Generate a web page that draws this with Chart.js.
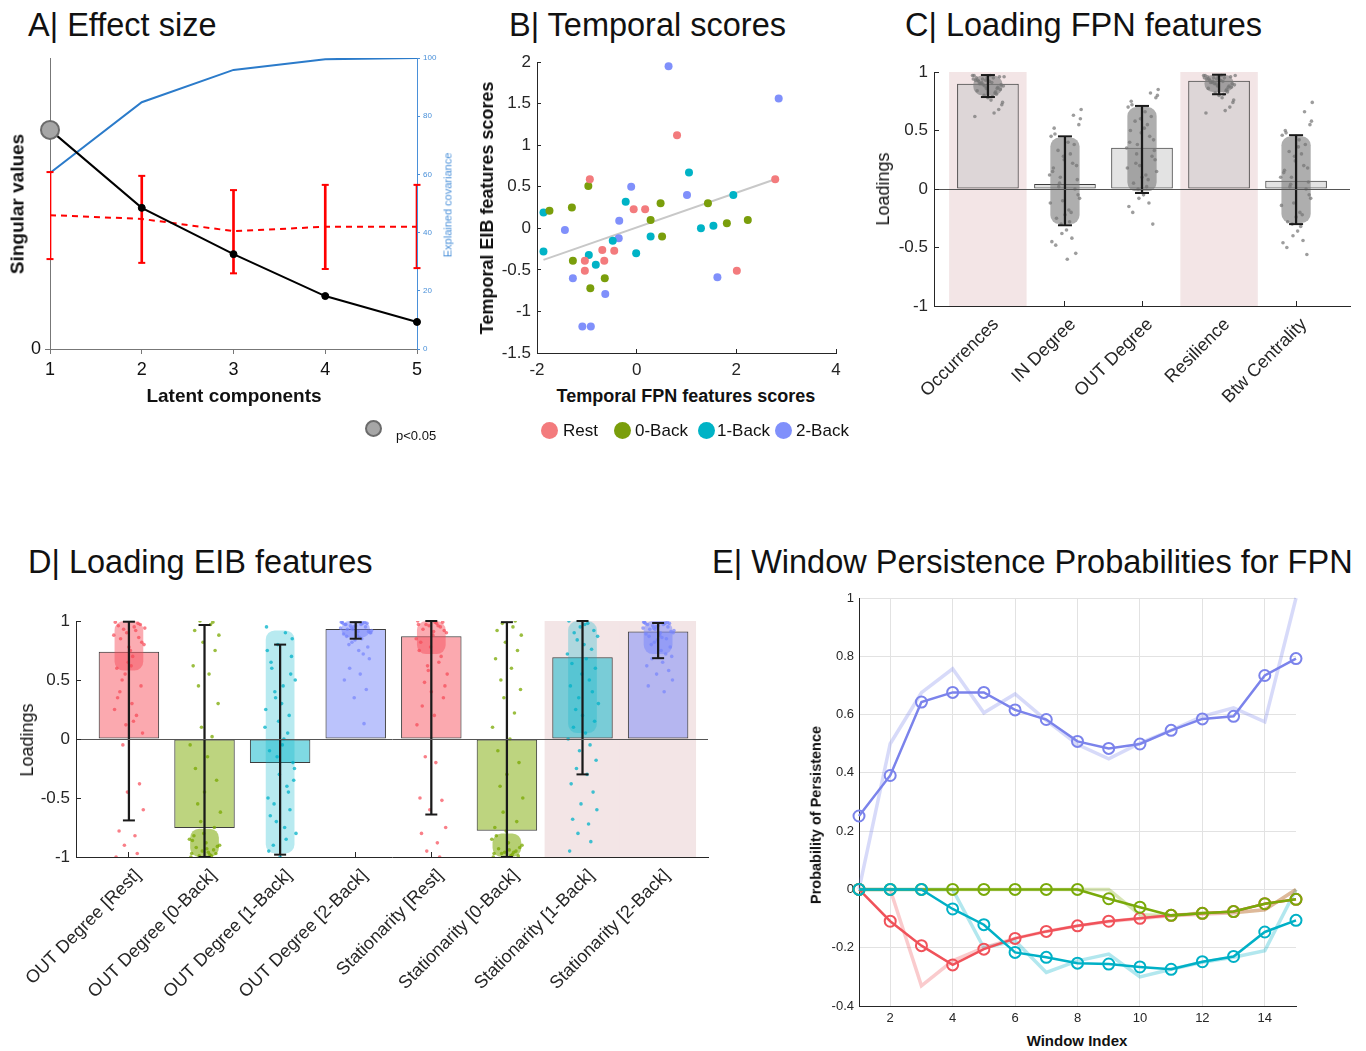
<!DOCTYPE html>
<html>
<head>
<meta charset="utf-8">
<title>FPN / EIB latent components</title>
<script src="https://cdn.jsdelivr.net/npm/chart.js@4.4.1/dist/chart.umd.min.js"></script>
<style>
  body { margin: 0; background: #fff; font-family: 'Liberation Sans', Arial, Helvetica, sans-serif; color: #111; }
  #page { position: relative; width: 1366px; height: 1051px; overflow: hidden; background: #fff; }
  canvas { position: absolute; }
  .t { position: absolute; white-space: nowrap; line-height: 1; }
  .dot { position: absolute; border-radius: 50%; box-sizing: border-box; }
</style>
</head>
<body>
<div id="page"></div>
<script>
// ---------- A | Effect size ----------
const compA = [1, 2, 3, 4, 5]
const singularVals = [75.3, 48.5, 32.6, 18.2, 9.3]
const nullMean = [46, 44.7, 40.5, 42, 42]
const nullLo = [30.9, 29.6, 26, 27.5, 27.8]
const nullHi = [60.8, 59.5, 54.6, 56.4, 56.4]
const explainedCov = [60.5, 84.8, 95.9, 99.6, 100]
const pSignif = [true, false, false, false, false]

// ---------- B | Temporal scores ----------
const restX = [-0.94, 0.81, 2.78, -0.06, 0.17, -0.69, -0.45, -1.04, -0.65, -1.04, 2.01]
const restY = [0.59, 1.12, 0.59, 0.23, 0.23, -0.26, -0.27, -0.39, -0.39, -0.51, -0.51]
const back0X = [-1.75, -1.30, -0.97, 0.48, 0.28, 0.51, 1.43, 1.81, 2.23, -1.28, -0.64, -0.93]
const back0Y = [0.21, 0.25, 0.51, 0.30, 0.10, -0.10, 0.30, 0.06, 0.10, -0.39, -0.60, -0.72]
const back1X = [-1.87, -1.87, -0.22, 1.05, 1.94, 1.29, 1.54, 0.28, -0.48, -0.01, -0.96, -0.82]
const back1Y = [0.19, -0.28, 0.32, 0.67, 0.40, 0.0, 0.03, -0.10, -0.15, -0.30, -0.32, -0.44]
const back2X = [0.64, 2.85, -0.11, 1.01, -0.35, -1.44, -0.36, -1.28, -0.63, 1.62, -1.09, -0.92]
const back2Y = [1.95, 1.56, 0.50, 0.40, 0.09, -0.02, -0.12, -0.60, -0.79, -0.59, -1.18, -1.18]
const fitX = [-1.87, 2.78]
const fitY = [-0.38, 0.59]
const condNames = ['Rest', '0-Back', '1-Back', '2-Back']

// ---------- C | Loading FPN features ----------
const fpnFeatures = ['Occurrences', 'IN Degree', 'OUT Degree', 'Resilience', 'Btw Centrality']
const fpnLoad = [0.90, 0.043, 0.353, 0.925, 0.07]
const fpnLo = [0.786, -0.31, -0.034, 0.81, -0.30]
const fpnHi = [0.974, 0.45, 0.71, 0.977, 0.46]
const fpnCoreLo = [0.80, -0.3, -0.02, 0.83, -0.29]
const fpnCoreHi = [0.97, 0.44, 0.7, 0.975, 0.45]
const fpnShaded = [1, 4]
const fpnBoot = [
  [0.97,0.95,0.93,0.96,0.9,0.88,0.94,0.92,0.86,0.97,0.91,0.84,0.89,0.95,0.82,0.93,0.87,0.8,0.96,0.9,0.78,0.85,0.92,0.76,0.94,0.83,0.88,0.72,0.91,0.79,0.95,0.68,0.86,0.74,0.93,0.65,0.89,0.81,0.62,0.97],
  [0.45,0.3,-0.1,0.2,-0.25,0.6,0.05,-0.35,0.38,0.12,-0.18,0.52,-0.05,0.25,-0.42,0.15,0.0,-0.3,0.68,0.33,-0.22,0.08,-0.48,0.4,-0.12,0.22,-0.38,0.55,0.02,-0.28,0.18,-0.55,0.28,-0.08,0.47,-0.2,0.1,0.63,-0.45,-0.6],
  [0.7,0.55,0.2,0.42,0.05,0.8,0.3,-0.05,0.62,0.35,0.12,0.75,0.25,0.48,-0.12,0.4,0.28,0.0,0.85,0.58,0.1,0.33,-0.2,0.66,0.18,0.45,-0.08,0.78,0.22,0.02,0.5,-0.3,0.6,0.15,0.72,0.08,0.38,0.82,-0.15,0.52],
  [0.97,0.95,0.94,0.96,0.91,0.89,0.95,0.93,0.87,0.97,0.92,0.86,0.9,0.96,0.84,0.94,0.88,0.82,0.97,0.91,0.8,0.87,0.93,0.78,0.95,0.85,0.9,0.74,0.92,0.81,0.96,0.7,0.88,0.76,0.94,0.67,0.9,0.83,0.65,0.97],
  [0.46,0.3,-0.12,0.18,-0.28,0.58,0.04,-0.36,0.38,0.1,-0.2,0.5,-0.05,0.24,-0.44,0.14,0.0,-0.3,0.74,0.32,-0.24,0.06,-0.5,0.42,-0.14,0.2,-0.4,0.55,0.02,-0.32,0.16,-0.56,0.28,-0.08,0.48,-0.22,0.1,0.66,-0.46,0.36]
]

// ---------- D | Loading EIB features ----------
const eibFeatures = ['OUT Degree [Rest]', 'OUT Degree [0-Back]', 'OUT Degree [1-Back]', 'OUT Degree [2-Back]',
  'Stationarity [Rest]', 'Stationarity [0-Back]', 'Stationarity [1-Back]', 'Stationarity [2-Back]']
const eibCond = [0, 1, 2, 3, 0, 1, 2, 3]
const eibLoad = [0.74, -0.755, -0.203, 0.932, 0.87, -0.777, 0.693, 0.91]
const eibLo = [-0.69, -1.0, -0.98, 0.85, -0.64, -1.0, -0.30, 0.685]
const eibHi = [0.994, 0.966, 0.80, 0.99, 1.0, 0.99, 1.0, 0.983]
const eibCoreLo = [0.58, -1.0, -0.97, 0.86, 0.72, -1.0, 0.05, 0.72]
const eibCoreHi = [1.0, -0.76, 0.92, 1.0, 1.0, -0.8, 1.0, 1.0]
const eibShaded = [7, 8]
const eibBoot = [
  [0.99,0.95,0.9,0.97,0.85,0.8,0.93,0.75,0.98,0.88,0.7,0.96,0.82,0.65,0.92,0.6,0.86,0.55,0.94,0.5,0.78,0.45,0.4,0.3,0.25,0.2,0.12,0.05,-0.05,0.15,0.35,-0.38,-0.45,-0.6,-0.78,-0.82,-0.9,-0.97,-1.0,0.62],
  [-1.0,-0.98,-0.95,-0.97,-0.92,-0.9,-0.99,-0.88,-0.94,-0.85,-0.96,-0.82,-0.91,-0.8,-0.99,-0.86,-0.75,-0.7,-0.62,-0.55,-0.45,-0.35,-0.25,-0.15,-0.05,0.02,0.1,0.3,0.45,0.55,0.62,0.75,0.82,0.88,0.92,0.97,1.0,0.99,-0.97,-0.93],
  [0.95,0.9,0.8,0.7,0.6,0.5,0.4,0.3,0.2,0.1,0.0,-0.1,-0.2,-0.3,-0.4,-0.5,-0.6,-0.7,-0.8,-0.9,-1.0,0.85,0.65,0.45,0.25,0.05,-0.15,-0.35,-0.55,-0.75,-0.95,0.55,0.15,-0.25,-0.65,-0.85,0.35,-0.45,0.75,-0.05],
  [0.99,0.97,0.95,0.98,0.93,0.9,0.96,0.88,0.99,0.94,0.86,0.97,0.91,0.84,0.98,0.89,0.95,0.82,0.92,0.8,0.96,0.78,0.87,0.75,0.99,0.72,0.93,0.68,0.6,0.55,0.5,0.42,0.35,0.9,0.97,0.85,0.94,0.13,0.98,0.91],
  [1.0,0.98,0.96,0.99,0.93,0.9,0.97,0.88,0.95,0.85,0.99,0.82,0.92,0.78,0.96,0.75,0.7,0.62,0.55,0.48,0.4,0.35,0.28,0.2,0.12,0.65,0.58,0.45,-0.15,-0.2,-0.5,-0.52,-0.6,-0.75,-0.8,-0.88,-0.95,-1.0,0.97,0.91],
  [-1.0,-0.98,-0.96,-0.99,-0.93,-0.9,-0.97,-0.88,-0.95,-0.85,-0.99,-0.82,-0.92,-0.78,-0.96,-0.75,-0.7,-0.62,-0.5,-0.4,-0.3,-0.2,-0.1,0.0,0.1,0.22,0.35,0.42,0.5,0.6,0.68,0.75,0.82,0.88,0.92,0.95,0.98,1.0,-0.97,-0.94],
  [1.0,0.98,0.95,0.92,0.9,0.87,0.84,0.8,0.76,0.72,0.68,0.64,0.6,0.55,0.5,0.45,0.4,0.35,0.3,0.25,0.2,0.15,0.1,0.05,0.0,-0.05,-0.1,-0.18,-0.25,-0.3,-0.38,-0.45,-0.55,-0.6,-0.68,-0.72,-0.8,-0.87,-0.95,0.97],
  [0.99,0.97,0.95,0.98,0.93,0.9,0.96,0.88,0.99,0.94,0.86,0.97,0.91,0.84,0.98,0.89,0.95,0.82,0.92,0.8,0.96,0.78,0.87,0.75,0.99,0.72,0.93,0.7,0.68,0.65,0.62,0.58,0.55,0.5,0.45,0.4,0.94,0.85,0.98,0.9]
]
// horizontal spread of the bootstrap dots around each bar (in category units)
const jitter = [-0.18,0.07,-0.03,0.15,-0.11,0.2,-0.07,0.02,0.12,-0.2,0.05,-0.14,0.17,-0.01,0.09,-0.16,0.13,-0.05,0.21,-0.09,
  0.0,0.16,-0.12,0.04,-0.19,0.1,-0.04,0.18,-0.08,0.06,-0.15,0.14,-0.02,0.19,-0.13,0.08,-0.06,0.11,-0.17,0.03]

// ---------- E | Window persistence ----------
const windows = [1, 2, 3, 4, 5, 6, 7, 8, 9, 10, 11, 12, 13, 14, 15]
const windowTicks = [2, 4, 6, 8, 10, 12, 14]
const persRest = [0, -0.109, -0.193, -0.259, -0.205, -0.168, -0.144, -0.125, -0.109, -0.099, -0.089, -0.082, -0.076, -0.049, -0.034]
const persRestRaw = [0, 0, -0.331, -0.245, -0.2, -0.168, -0.144, -0.125, -0.11, -0.1, -0.09, -0.085, -0.08, -0.07, 0]
const pers0 = [0, 0, 0, 0, 0, 0, 0, 0, -0.032, -0.061, -0.089, -0.082, -0.076, -0.049, -0.034]
const pers0Raw = [0, 0, 0, 0, 0, 0, 0, 0, 0, -0.087, -0.09, -0.08, -0.08, -0.07, 0]
const pers1 = [0, 0, 0, -0.067, -0.121, -0.216, -0.233, -0.253, -0.256, -0.266, -0.274, -0.248, -0.23, -0.146, -0.106]
const pers1Raw = [0, 0, 0, 0, -0.2, -0.176, -0.285, -0.245, -0.222, -0.3, -0.274, -0.25, -0.233, -0.21, 0]
const pers2 = [0.252, 0.391, 0.643, 0.676, 0.676, 0.616, 0.583, 0.508, 0.484, 0.499, 0.546, 0.585, 0.594, 0.734, 0.792]
const pers2Raw = [0, 0.5, 0.675, 0.757, 0.606, 0.671, 0.58, 0.497, 0.448, 0.502, 0.546, 0.594, 0.623, 0.575, 1.0]

// ---------- styling ----------
const condPoint = ['#f37b7d', '#7a9e0b', '#00b3c6', '#8090fb']
const condDot = ['rgba(246,72,85,0.7)', 'rgba(122,168,0,0.75)', 'rgba(0,178,200,0.75)', 'rgba(118,132,252,0.7)']
const condCore = ['rgba(246,72,85,0.45)', 'rgba(122,168,0,0.55)', 'rgba(0,178,200,0.28)', 'rgba(118,132,252,0.5)']
const condBar = ['rgba(246,72,85,0.47)', 'rgba(124,170,0,0.5)', 'rgba(0,180,200,0.5)', 'rgba(120,135,250,0.5)']
const condLine = ['#f0525a', '#79aa0a', '#00b0c6', '#7b83eb']
const condFaint = ['rgba(240,82,90,0.3)', 'rgba(121,170,10,0.3)', 'rgba(0,176,198,0.3)', 'rgba(123,131,235,0.3)']
const shadeColor = '#f3e5e6'
const axisInk = '#262626'
const fmt = v => String(Math.round(v * 100) / 100)

Chart.defaults.font.family = "'Liberation Sans', Arial, Helvetica, sans-serif"
Chart.defaults.color = axisInk
Chart.defaults.animation = false
Chart.defaults.plugins.legend.display = false
Chart.defaults.plugins.tooltip.enabled = false

// fixed axis boxes, so every plot area lands where the figure has it
const noPad = s => { s.paddingTop = 0; s.paddingBottom = 0; s.paddingLeft = 0; s.paddingRight = 0 }
const fixW = w => s => { s.width = w; noPad(s) }
const fixH = h => s => { s.height = h; noPad(s) }

const page = document.getElementById('page')

function addCanvas(left, top, width, height) {
  const c = document.createElement('canvas')
  c.width = width
  c.height = height
  c.style.left = left + 'px'
  c.style.top = top + 'px'
  c.style.width = width + 'px'
  c.style.height = height + 'px'
  page.appendChild(c)
  return c.getContext('2d')
}

// text placed by its centre (or left-middle when anchor = 'left')
function addText(text, x, y, o = {}) {
  const d = document.createElement('div')
  d.className = 't'
  d.textContent = text
  d.style.left = x + 'px'
  d.style.top = y + 'px'
  d.style.fontSize = (o.size || 16) + 'px'
  d.style.fontWeight = o.weight || 'normal'
  d.style.color = o.color || '#111'
  const shift = o.anchor === 'left' ? 'translate(0,-50%)' : 'translate(-50%,-50%)'
  d.style.transform = shift + (o.rotate ? ' rotate(-90deg)' : '')
  page.appendChild(d)
}

function addDot(x, y, size, fill, border) {
  const d = document.createElement('div')
  d.className = 'dot'
  d.style.left = (x - size / 2) + 'px'
  d.style.top = (y - size / 2) + 'px'
  d.style.width = size + 'px'
  d.style.height = size + 'px'
  d.style.background = fill
  if (border) d.style.border = border
  page.appendChild(d)
}

const pts = (xs, ys) => xs.map((x, i) => ({ x, y: ys[i] }))

// panel titles
addText('A| Effect size', 28, 25, { size: 32.5, anchor: 'left' })
addText('B| Temporal scores', 509, 25, { size: 32.5, anchor: 'left' })
addText('C| Loading FPN features', 905, 25, { size: 32.5, anchor: 'left' })
addText('D| Loading EIB features', 28, 562, { size: 32.5, anchor: 'left' })
addText('E| Window Persistence Probabilities for FPN', 712, 562, { size: 32.5, anchor: 'left' })

// ================= A =================
new Chart(addCanvas(0, 40, 450, 349), {
  type: 'line',
  data: {
    datasets: [
      {
        label: 'Singular values', data: pts(compA, singularVals), yAxisID: 'y',
        borderColor: '#000', borderWidth: 2, clip: false, order: 0,
        pointRadius: pSignif.map(s => s ? 9 : 3.5),
        pointBackgroundColor: pSignif.map(s => s ? '#a6a6a6' : '#000'),
        pointBorderColor: pSignif.map(s => s ? '#6b6b6b' : '#000'),
        pointBorderWidth: pSignif.map(s => s ? 2 : 1)
      },
      {
        label: 'Null mean', data: pts(compA, nullMean), yAxisID: 'y',
        borderColor: '#ff0000', borderWidth: 2, borderDash: [6, 5], pointRadius: 0, order: 2
      },
      {
        type: 'bar', label: 'Null range', yAxisID: 'y',
        data: compA.map((c, i) => ({ x: c, y: [nullLo[i], nullHi[i]] })),
        backgroundColor: '#ff0000', barThickness: 2, grouped: false, order: 3
      },
      {
        label: 'Null caps', yAxisID: 'y', showLine: false, clip: false, order: 3,
        data: compA.flatMap((c, i) => [{ x: c, y: nullLo[i] }, { x: c, y: nullHi[i] }]),
        pointStyle: 'line', pointRadius: 3.5, pointBorderWidth: 2,
        borderColor: '#ff0000', pointBorderColor: '#ff0000'
      },
      {
        label: 'Explained covariance', data: pts(compA, explainedCov), yAxisID: 'y2',
        borderColor: '#2b7bca', borderWidth: 2, pointRadius: 0, order: 4
      }
    ]
  },
  options: {
    responsive: false,
    layout: { padding: { left: 0, top: 18, right: 5, bottom: 0 } },
    scales: {
      x: {
        type: 'linear', min: 1, max: 5, offset: false,
        ticks: { stepSize: 1, font: { size: 18 }, color: '#111', padding: 5 },
        grid: { offset: false, drawOnChartArea: false, tickLength: 5, color: '#777' },
        border: { color: '#777' },
        afterFit: fixH(40)
      },
      y: {
        position: 'left', min: 0, max: 100,
        afterBuildTicks: s => { s.ticks = [{ value: 0 }] },
        ticks: { font: { size: 18 }, color: '#111', padding: 4 },
        grid: { drawOnChartArea: false, tickLength: 5, color: '#777' },
        border: { color: '#777' },
        afterFit: fixW(50)
      },
      y2: {
        position: 'right', min: 0, max: 100,
        ticks: { stepSize: 20, font: { size: 8 }, color: '#4a90d9', padding: 3 },
        grid: { drawOnChartArea: false, tickLength: 3, color: '#4a90d9' },
        border: { color: '#4a90d9' },
        afterFit: fixW(28)
      }
    }
  }
})
addText('Singular values', 17, 204, { size: 19, weight: 'bold', rotate: true })
addText('Latent components', 234, 395, { size: 19, weight: 'bold' })
addText('Explained covariance', 448, 205, { size: 11, color: '#4a90d9', rotate: true })
addDot(373, 428, 17, '#a6a6a6', '2px solid #6b6b6b')
addText('p<0.05', 396, 435, { size: 13, anchor: 'left' })

// ================= B =================
const groupsB = [[restX, restY], [back0X, back0Y], [back1X, back1Y], [back2X, back2Y]]
new Chart(addCanvas(477, 50, 374, 333), {
  type: 'scatter',
  data: {
    datasets: [
      ...groupsB.map((g, k) => ({
        label: condNames[k], data: pts(g[0], g[1]),
        pointRadius: 4, borderWidth: 0, backgroundColor: condPoint[k], order: 1
      })),
      {
        type: 'line', label: 'fit', data: pts(fitX, fitY),
        borderColor: '#c8c8c8', borderWidth: 2, pointRadius: 0, order: 5
      }
    ]
  },
  options: {
    responsive: false,
    layout: { padding: { left: 0, top: 12, right: 15, bottom: 0 } },
    scales: {
      x: {
        type: 'linear', min: -2, max: 4,
        ticks: { stepSize: 2, font: { size: 17 }, padding: 11, callback: fmt },
        grid: { drawOnChartArea: false, tickLength: -4, tickColor: axisInk },
        border: { color: axisInk },
        afterFit: fixH(30)
      },
      y: {
        min: -1.5, max: 2,
        ticks: { stepSize: 0.5, font: { size: 17 }, padding: 10, callback: fmt },
        grid: { drawOnChartArea: false, tickLength: -4, tickColor: axisInk },
        border: { color: axisInk },
        afterFit: fixW(60)
      }
    }
  }
})
addText('Temporal EIB features scores', 487, 208, { size: 18, weight: 'bold', rotate: true })
addText('Temporal FPN features scores', 686, 396, { size: 18, weight: 'bold' })
const legendB = [[549, 563], [622, 635], [706, 717], [783, 796]]
legendB.forEach(([cx, tx], k) => {
  addDot(cx, 430, 17, condPoint[k])
  addText(condNames[k], tx, 430, { size: 17, anchor: 'left' })
})

// ================= C & D (loadings with bootstrap clouds) =================
function loadingChart(ctx, o) {
  const pos = o.names.map((_, i) => i + 1)
  return new Chart(ctx, {
    type: 'bar',
    data: {
      datasets: [
        {
          label: 'highlight', data: o.shaded.map(p => ({ x: p, y: [-1, 1] })),
          backgroundColor: shadeColor, borderColor: shadeColor, borderWidth: 1, borderSkipped: false,
          barPercentage: 1, categoryPercentage: 1, grouped: false, order: 6
        },
        {
          label: 'loading', data: pts(pos, o.load),
          backgroundColor: o.barFill, borderColor: '#3d3d3d', borderWidth: 1, borderSkipped: false,
          barPercentage: 0.8, categoryPercentage: 1, grouped: false, order: 5
        },
        {
          label: 'bootstrap core', data: pos.map((p, i) => ({ x: p, y: [o.coreLo[i], o.coreHi[i]] })),
          backgroundColor: o.coreFill, borderWidth: 0, borderRadius: 9, borderSkipped: false,
          barPercentage: 0.38, categoryPercentage: 1, grouped: false, order: 4
        },
        {
          type: 'scatter', label: 'bootstrap',
          data: o.boot.flatMap((ys, i) => ys.map((y, k) => ({ x: pos[i] + jitter[k % jitter.length], y }))),
          backgroundColor: o.boot.flatMap((ys, i) => ys.map(() => o.dotFill[i])),
          pointRadius: 1.8, borderWidth: 0, order: 3
        },
        {
          label: 'ci', data: pos.map((p, i) => ({ x: p, y: [o.lo[i], o.hi[i]] })),
          backgroundColor: '#1a1a1a', barThickness: 1.6, grouped: false, order: 2
        },
        {
          type: 'scatter', label: 'ci caps',
          data: pos.flatMap((p, i) => [{ x: p, y: o.lo[i] }, { x: p, y: o.hi[i] }]),
          pointStyle: 'line', pointRadius: o.cap, pointBorderWidth: 2,
          borderColor: '#1a1a1a', pointBorderColor: '#1a1a1a', clip: false, order: 1
        }
      ]
    },
    options: {
      responsive: false,
      layout: { padding: { left: 0, top: 12, right: 10, bottom: 0 } },
      scales: {
        x: {
          type: 'linear', min: 0.3, max: o.xMax, offset: false,
          afterBuildTicks: s => { s.ticks = pos.map(v => ({ value: v })) },
          ticks: {
            callback: v => o.names[v - 1], autoSkip: false, minRotation: 45, maxRotation: 45,
            font: { size: o.labelSize }, color: axisInk, padding: o.labelPad, labelOffset: o.labelShift
          },
          grid: { drawOnChartArea: false, tickLength: -5, tickColor: axisInk, offset: false },
          border: { color: axisInk, z: 1 },
          afterFit: fixH(o.xh)
        },
        y: {
          min: -1, max: 1,
          ticks: { stepSize: 0.5, font: { size: o.tickSize }, padding: 11, callback: fmt },
          grid: {
            color: c => c.tick.value === 0 ? '#555' : 'rgba(0,0,0,0)',
            tickLength: -5, tickColor: axisInk, z: 1
          },
          border: { color: axisInk, z: 1 },
          afterFit: fixW(o.yw)
        }
      }
    }
  })
}

loadingChart(addCanvas(884, 60, 476, 356), {
  names: fpnFeatures, load: fpnLoad, lo: fpnLo, hi: fpnHi,
  coreLo: fpnCoreLo, coreHi: fpnCoreHi, boot: fpnBoot, shaded: fpnShaded,
  barFill: 'rgba(200,200,200,0.5)', coreFill: 'rgba(125,125,125,0.62)',
  dotFill: fpnFeatures.map(() => 'rgba(115,115,115,0.7)'),
  xMax: 5.7, cap: 7, xh: 110, yw: 50, tickSize: 17, labelSize: 18, labelPad: 13, labelShift: 8
})
addText('Loadings', 883, 189, { size: 18, rotate: true })

loadingChart(addCanvas(20, 609, 698, 398), {
  names: eibFeatures, load: eibLoad, lo: eibLo, hi: eibHi,
  coreLo: eibCoreLo, coreHi: eibCoreHi, boot: eibBoot, shaded: eibShaded,
  barFill: eibCond.map(c => condBar[c]), coreFill: eibCond.map(c => condCore[c]),
  dotFill: eibCond.map(c => condDot[c]),
  xMax: 8.66, cap: 6, xh: 150, yw: 56, tickSize: 17, labelSize: 18, labelPad: 13, labelShift: 9
})
addText('Loadings', 27, 740, { size: 18, rotate: true })

// ================= E =================
const persThick = [persRest, pers0, pers1, pers2]
const persRaw = [persRestRaw, pers0Raw, pers1Raw, pers2Raw]
new Chart(addCanvas(814, 588, 497, 442), {
  type: 'line',
  data: {
    datasets: [
      ...persRaw.map((v, k) => ({
        label: condNames[k] + ' raw', data: pts(windows, v),
        borderColor: condFaint[k], borderWidth: 3.5, pointRadius: 0, clip: false, order: 10
      })),
      ...persThick.map((v, k) => ({
        label: condNames[k], data: pts(windows, v),
        borderColor: condLine[k], borderWidth: 2.5, clip: false, order: 4 - k,
        pointRadius: 5.5, pointBorderWidth: 2, pointBorderColor: condLine[k],
        pointBackgroundColor: 'rgba(0,0,0,0)'
      }))
    ]
  },
  options: {
    responsive: false,
    layout: { padding: { left: 0, top: 10, right: 15, bottom: 0 } },
    scales: {
      x: {
        type: 'linear', min: 1, max: 15,
        afterBuildTicks: s => { s.ticks = windowTicks.map(v => ({ value: v })) },
        ticks: { font: { size: 13 }, padding: 5 },
        grid: { color: '#e2e2e2', drawTicks: false },
        border: { color: axisInk },
        afterFit: fixH(24)
      },
      y: {
        min: -0.4, max: 1,
        ticks: { stepSize: 0.2, font: { size: 13 }, padding: 5, callback: fmt },
        grid: { color: '#e2e2e2', drawTicks: false },
        border: { color: axisInk },
        afterFit: fixW(45)
      }
    }
  }
})
addText('Probability of Persistence', 816, 815, { size: 14.5, weight: 'bold', rotate: true })
addText('Window Index', 1077, 1040, { size: 15, weight: 'bold' })
</script>
</body>
</html>
